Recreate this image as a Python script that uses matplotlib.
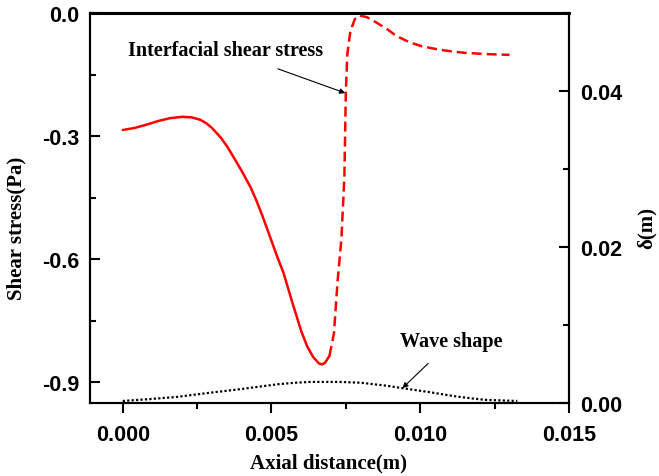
import matplotlib
matplotlib.use("Agg")
import matplotlib.pyplot as plt
from matplotlib.ticker import MultipleLocator, FormatStrFormatter

# Interfacial shear stress (solid part)
solid_x = [0.0, 0.0004, 0.0008, 0.0012, 0.0016, 0.0020, 0.0023, 0.0026, 0.0028,
           0.0030, 0.0033, 0.0035, 0.0037, 0.0040, 0.0043, 0.0045, 0.0047,
           0.0050, 0.0052, 0.0054, 0.0057, 0.0060, 0.0062, 0.0064, 0.0066,
           0.0067, 0.0068, 0.00695]
solid_y = [-0.285, -0.280, -0.272, -0.263, -0.256, -0.253, -0.254, -0.260, -0.268,
           -0.280, -0.304, -0.324, -0.348, -0.385, -0.425, -0.458, -0.495,
           -0.555, -0.595, -0.632, -0.705, -0.775, -0.812, -0.838, -0.854,
           -0.856, -0.852, -0.835]

# Interfacial shear stress (dashed part)
dash_x = [0.00695, 0.0071, 0.00722, 0.00735, 0.00745, 0.00750, 0.00755, 0.00765,
          0.0078, 0.00795, 0.0082, 0.0085, 0.0089, 0.0092, 0.0096, 0.0100, 0.0104,
          0.0107, 0.0111, 0.0115, 0.0122, 0.0130]
dash_y = [-0.835, -0.78, -0.655, -0.55, -0.40, -0.19, -0.10, -0.045,
          -0.015, -0.006, -0.010, -0.022, -0.040, -0.056, -0.070, -0.080, -0.086,
          -0.090, -0.094, -0.097, -0.100, -0.102]

# Wave shape (right axis)
wave_x = [0.0, 0.0009, 0.0018, 0.0029, 0.0038, 0.0046, 0.0052, 0.0058, 0.0063, 0.0068,
          0.0073, 0.0080, 0.0089, 0.0094, 0.0103, 0.0111, 0.0117, 0.0122, 0.01326]
wave_y = [0.00026, 0.0005, 0.00077, 0.0013, 0.0017, 0.0021, 0.0024, 0.0026, 0.0027, 0.0027,
          0.0027, 0.0026, 0.0022, 0.0019, 0.0014, 0.0009, 0.0006, 0.0004, 0.00026]

x_ticks = [0.000, 0.005, 0.010, 0.015]
y_ticks = [-0.9, -0.6, -0.3, 0.0]
y2_ticks = [0.00, 0.02, 0.04]

sans = "Liberation Sans"
serif = "Liberation Serif"

fig = plt.figure(figsize=(6.59, 4.77), dpi=100)
ax = fig.add_axes([90/659, 73/477, (569-90)/659, (404-14)/477])
ax2 = ax.twinx()

ax.plot(solid_x, solid_y, color="#ff0000", lw=1.8, solid_capstyle="round",
        solid_joinstyle="round")
ax.plot(dash_x, dash_y, color="#ff0000", lw=1.8, linestyle=(0, (4, 2)))
ax2.plot(wave_x, wave_y, color="black", lw=1.6, linestyle=(0, (1, 1)))

ax.set_xlim(-0.0011, 0.015)
ax.set_ylim(-0.95, 0.0)
ax2.set_ylim(0.0, 0.05)

ax.set_xticks(x_ticks)
ax.set_yticks(y_ticks)
ax2.set_yticks(y2_ticks)
ax.xaxis.set_minor_locator(MultipleLocator(0.0025))
ax.yaxis.set_minor_locator(MultipleLocator(0.15))
ax2.yaxis.set_minor_locator(MultipleLocator(0.01))
ax.xaxis.set_major_formatter(FormatStrFormatter("%.3f"))
ax.yaxis.set_major_formatter(FormatStrFormatter("%.1f"))
ax2.yaxis.set_major_formatter(FormatStrFormatter("%.2f"))

ax.tick_params(axis="x", which="major", direction="out", length=7, width=1.5, pad=8)
ax.tick_params(axis="x", which="minor", direction="out", length=4, width=1.5)
ax.tick_params(axis="y", which="major", direction="in", length=7, width=1.5, pad=8)
ax.tick_params(axis="y", which="minor", direction="in", length=4, width=1.5)
ax2.tick_params(axis="y", which="major", direction="in", length=7, width=1.5, pad=8)
ax2.tick_params(axis="y", which="minor", direction="in", length=4, width=1.5)

for a in (ax, ax2):
    for s in a.spines.values():
        s.set_linewidth(1.5)
ax.spines["top"].set_linewidth(2.2)

for lab in ax.get_xticklabels() + ax.get_yticklabels() + ax2.get_yticklabels():
    lab.set_fontfamily(sans)
    lab.set_fontweight("bold")
    lab.set_fontsize(15.5)

ax.set_xlabel("Axial distance(m)", fontfamily=serif, fontweight="bold", fontsize=15,
              va="center", ha="center")
ax.set_ylabel("Shear stress(Pa)", fontfamily=serif, fontweight="bold", fontsize=15,
              va="center", ha="center")
ax2.set_ylabel("δ(m)", fontfamily=serif, fontweight="bold", fontsize=15, rotation=90,
               va="center", ha="center")
ax.xaxis.set_label_coords((329-90)/479, -(463-404)/390)
ax.yaxis.set_label_coords(-(90-16)/479, (404-228)/390)
ax2.yaxis.set_label_coords((647-90)/479, (404-228)/390)

ax.annotate("Interfacial shear stress", xy=(0.00748, -0.195), xytext=(0.00345, -0.09),
            textcoords="data", ha="center", va="center",
            fontfamily=serif, fontweight="bold", fontsize=14.5,
            arrowprops=dict(arrowstyle="-|>", color="black", lw=0.8,
                            mutation_scale=8, shrinkA=13, shrinkB=0))
ax2.annotate("Wave shape", xy=(0.0094, 0.0019), xytext=(0.01105, 0.00795),
             textcoords="data", ha="center", va="center",
             fontfamily=serif, fontweight="bold", fontsize=14.5,
             arrowprops=dict(arrowstyle="-|>", color="black", lw=0.8,
                             mutation_scale=8, shrinkA=10, shrinkB=0))

fig.savefig("out.png", dpi=100)
